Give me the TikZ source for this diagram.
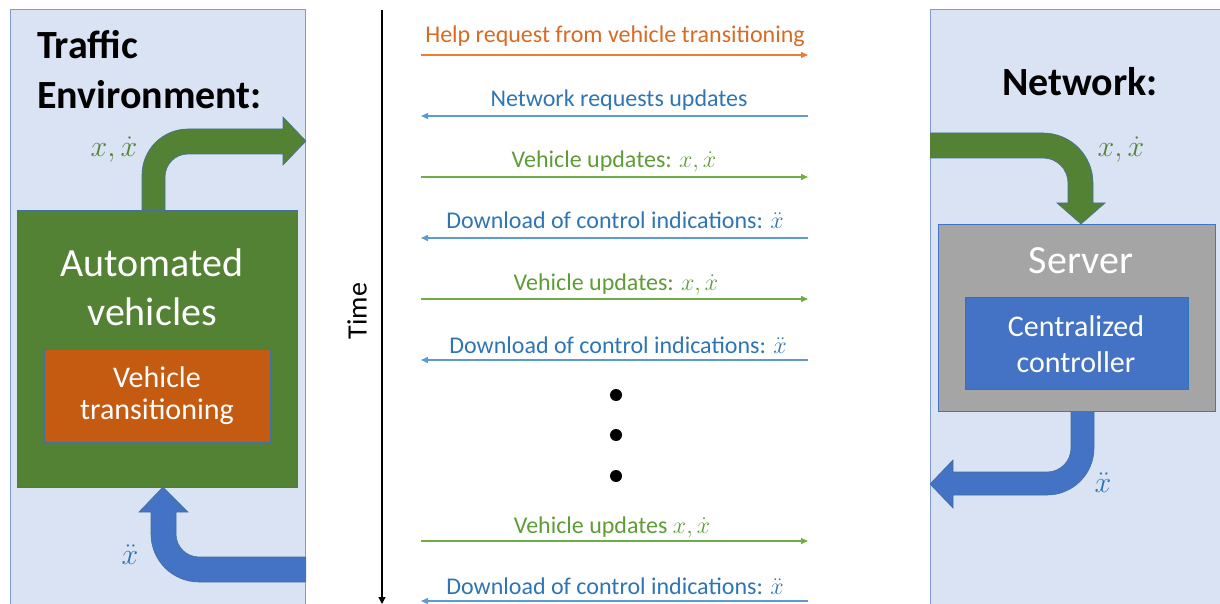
\documentclass[tikz,border=0pt]{standalone}
\usepackage{fix-cm}
\usepackage{fontspec}
\setmainfont{Carlito}
\usetikzlibrary{arrows.meta}
\definecolor{panel}{HTML}{DAE3F3}
\definecolor{panelline}{HTML}{7F9CD2}
\definecolor{dkgreen}{HTML}{548235}
\definecolor{orng}{HTML}{C55A11}
\definecolor{gry}{HTML}{A5A5A5}
\definecolor{blu}{HTML}{4472C4}
\definecolor{edge}{HTML}{41719C}
\definecolor{msgO}{HTML}{ED7D31}
\definecolor{msgOt}{HTML}{D86A24}
\definecolor{msgB}{HTML}{5B9BD5}
\definecolor{msgBt}{HTML}{2E75B6}
\definecolor{msgG}{HTML}{70AD47}
\definecolor{msgGt}{HTML}{5E9C35}
\begin{document}
\begin{tikzpicture}[x=1pt,y=1pt,
  panelbox/.style={fill=panel,draw=panelline,line width=1pt},
  box/.style={draw=edge,line width=0.8pt,inner sep=0pt,anchor=north west},
  bigarrow/.style={draw=edge,line width=0.6pt},
  msg/.style={line width=1.4pt,-{Triangle[length=7pt,width=6pt]}},
  msglbl/.style={font=\fontsize{24}{26}\selectfont,inner sep=0pt},
  title/.style={font=\fontsize{40}{42}\selectfont\bfseries,inner sep=0pt,anchor=west},
  bigtxt/.style={text=white,font=\fontsize{40}{42}\selectfont,inner sep=0pt},
  midtxt/.style={text=white,font=\fontsize{30}{32}\selectfont,inner sep=0pt},
  symG/.style={text=dkgreen,font=\fontsize{30}{32}\selectfont,inner sep=0pt},
  symB/.style={text=msgBt,font=\fontsize{30}{32}\selectfont,inner sep=0pt}]
\useasboundingbox (0,0) rectangle (1220,-604);
\begin{scope}
\clip (0,0) rectangle (1220,-604);
% panels
\draw[panelbox] (10,-10) rectangle (305,-612);
\draw[panelbox] (930,-10) rectangle (1228,-612);
% left side
\node[title] (t1) at (37,-45) {Traffic};
\node[title] (t2) at (37,-95) {Environment:};
\node[box,fill=dkgreen,minimum width=280pt,minimum height=277pt] (av) at (17,-210) {};
\node[bigtxt] (avt1) at (152,-263) {Automated};
\node[bigtxt] (avt2) at (152,-312) {vehicles};
\node[box,fill=orng,minimum width=226pt,minimum height=93pt] (vt) at (44,-349) {};
\node[midtxt] (vtt1) at (157,-377) {Vehicle};
\node[midtxt] (vtt2) at (157,-412) {transitioning};
% green bent arrow (left)
\fill[dkgreen] (142,-210) -- (142,-175) arc[start angle=180,end angle=90,radius=46pt]
  -- (283,-129) -- (283,-117) -- (306,-141) -- (283,-165) -- (283,-154) -- (188,-154)
  arc[start angle=90,end angle=180,radius=23pt] -- (165,-210) -- cycle;
\draw[bigarrow] (142,-210) -- (142,-175) arc[start angle=180,end angle=90,radius=46pt]
  -- (283,-129) -- (283,-117) -- (306,-141) -- (283,-165) -- (283,-154) -- (188,-154)
  arc[start angle=90,end angle=180,radius=23pt] -- (165,-210);
\node[symG] (lx1) at (114,-150) {$x,\dot{x}$};
% blue bent arrow (left)
\fill[blu] (306,-582) -- (199,-582) arc[start angle=270,end angle=180,radius=48pt]
  -- (151,-512) -- (139,-512) -- (163,-487) -- (188,-512) -- (176,-512) -- (176,-534)
  arc[start angle=180,end angle=270,radius=23pt] -- (306,-557) -- cycle;
\draw[bigarrow] (305,-582) -- (199,-582) arc[start angle=270,end angle=180,radius=48pt]
  -- (151,-512) -- (139,-512) -- (163,-487) -- (188,-512) -- (176,-512) -- (176,-534)
  arc[start angle=180,end angle=270,radius=23pt] -- (305,-557);
\node[symB] (lx2) at (130,-555) {$\ddot{x}$};
% right side
\node[title] (t3) at (1002,-82) {Network:};
\node[box,fill=gry,draw=blu,minimum width=277pt,minimum height=187pt] (srv) at (938,-224) {};
\node[bigtxt] (srvt) at (1081,-261) {Server};
\node[box,fill=blu,draw=msgBt,minimum width=223pt,minimum height=92pt] (cc) at (965,-297) {};
\node[midtxt] (cct1) at (1076,-326) {Centralized};
\node[midtxt] (cct2) at (1076,-362) {controller};
% green bent arrow (right)
\fill[dkgreen] (930,-133) -- (1043,-133) arc[start angle=90,end angle=0,radius=50pt]
  -- (1093,-203) -- (1105,-203) -- (1081,-224) -- (1057,-203) -- (1068,-203) -- (1068,-183)
  arc[start angle=0,end angle=90,radius=25pt] -- (930,-158) -- cycle;
\draw[bigarrow] (930,-133) -- (1043,-133) arc[start angle=90,end angle=0,radius=50pt]
  -- (1093,-203) -- (1105,-203) -- (1081,-224) -- (1057,-203) -- (1068,-203) -- (1068,-183)
  arc[start angle=0,end angle=90,radius=25pt] -- (930,-158);
\node[symG] (rx1) at (1121,-150) {$x,\dot{x}$};
% blue bent arrow (right)
\fill[blu] (1071,-412) -- (1071,-448) arc[start angle=0,end angle=-90,radius=24pt]
  -- (953,-472) -- (953,-460) -- (930,-484) -- (953,-508) -- (953,-495) -- (1047,-495)
  arc[start angle=-90,end angle=0,radius=47pt] -- (1094,-412) -- cycle;
\draw[bigarrow] (1071,-412) -- (1071,-448) arc[start angle=0,end angle=-90,radius=24pt]
  -- (953,-472) -- (953,-460) -- (930,-484) -- (953,-508) -- (953,-495) -- (1047,-495)
  arc[start angle=-90,end angle=0,radius=47pt] -- (1094,-412);
\node[symB] (rx2) at (1103,-483) {$\ddot{x}$};
% time axis
\coordinate (ttop) at (382,-10);
\coordinate (tbot) at (382,-604);
\draw[line width=1.3pt,-{Triangle[length=7pt,width=7pt]}] (ttop) -- (tbot);
\node[rotate=90,font=\fontsize{28}{30}\selectfont,inner sep=0pt] (time) at (357,-311) {Time};
% messages
\foreach \i/\y in {1/55,2/116,3/177,4/238,5/299,6/360,7/541,8/601}{
  \coordinate (L\i) at (421,-\y);
  \coordinate (R\i) at (808,-\y);
}
\draw[msg,msgO] (L1) -- (R1);
\draw[msg,msgB] (R2) -- (L2);
\draw[msg,msgG] (L3) -- (R3);
\draw[msg,msgB] (R4) -- (L4);
\draw[msg,msgG] (L5) -- (R5);
\draw[msg,msgB] (R6) -- (L6);
\draw[msg,msgG] (L7) -- (R7);
\draw[msg,msgB] (R8) -- (L8);
\node[msglbl,text=msgOt] (l1) at (615,-36) {Help request from vehicle transitioning};
\node[msglbl,text=msgBt] (l2) at (619,-100) {Network requests updates};
\node[msglbl,text=msgGt] (l3) at (614,-162) {Vehicle updates: $x,\dot{x}$};
\node[msglbl,text=msgBt] (l4) at (615,-220) {Download of control indications: $\ddot{x}$};
\node[msglbl,text=msgGt] (l5) at (616,-285) {Vehicle updates: $x,\dot{x}$};
\node[msglbl,text=msgBt] (l6) at (618,-345) {Download of control indications: $\ddot{x}$};
\node[msglbl,text=msgGt] (l7) at (612,-527) {Vehicle updates $x,\dot{x}$};
\node[msglbl,text=msgBt] (l8) at (615,-586) {Download of control indications: $\ddot{x}$};
% dots
\fill (616,-395) circle (6pt);
\fill (616,-435) circle (6pt);
\fill (616,-476) circle (6pt);
\end{scope}
\end{tikzpicture}
\end{document}
